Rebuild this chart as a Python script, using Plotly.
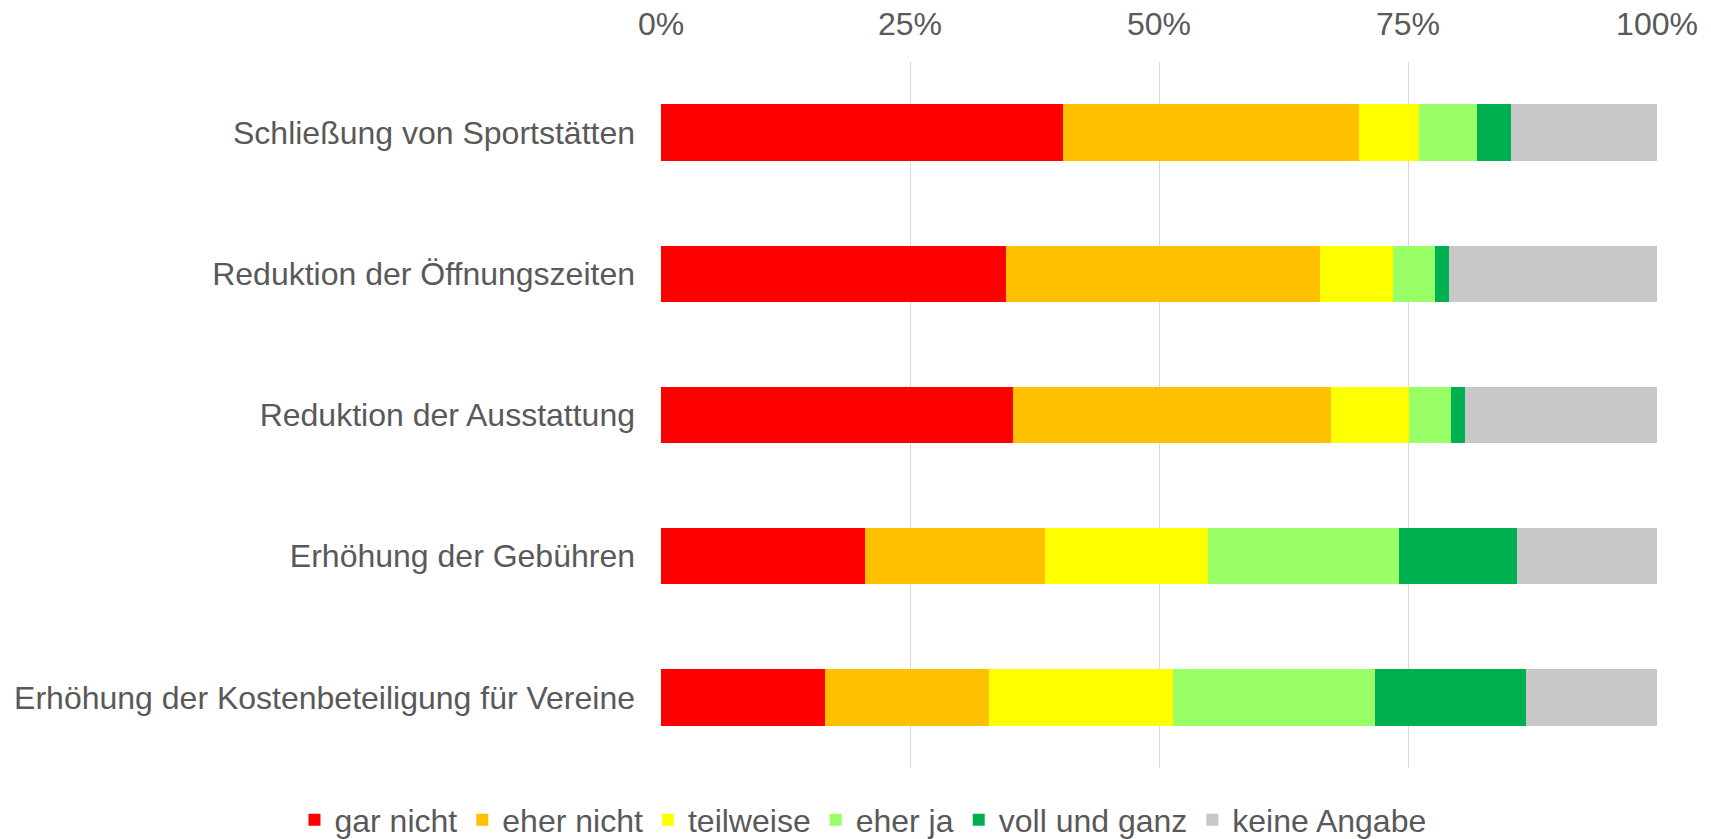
import plotly.graph_objects as go

categories = [
    "Schließung von Sportstätten",
    "Reduktion der Öffnungszeiten",
    "Reduktion der Ausstattung",
    "Erhöhung der Gebühren",
    "Erhöhung der Kostenbeteiligung für Vereine",
]
series_names = ["gar nicht", "eher nicht", "teilweise", "eher ja", "voll und ganz", "keine Angabe"]
gar_nicht = [40.4, 34.6, 35.3, 20.5, 16.5]
eher_nicht = [29.7, 31.6, 32.0, 18.1, 16.4]
teilweise = [6.0, 7.3, 7.8, 16.3, 18.5]
eher_ja = [5.8, 4.2, 4.2, 19.2, 20.3]
voll_und_ganz = [3.4, 1.4, 1.4, 11.8, 15.1]
keine_angabe = [14.7, 20.9, 19.3, 14.1, 13.2]
tick_values = [0, 25, 50, 75, 100]
tick_labels = ["0%", "25%", "50%", "75%", "100%"]

colors = ["#FF0000", "#FFC000", "#FFFF00", "#99FF66", "#00B050", "#C8C8C8"]
values = [gar_nicht, eher_nicht, teilweise, eher_ja, voll_und_ganz, keine_angabe]

FONT = "Liberation Sans, Arial, sans-serif"
TXT = "#595959"
FS = 32

fig = go.Figure()
for name, vals, col in zip(series_names, values, colors):
    fig.add_trace(go.Bar(
        y=categories, x=vals, name=name, orientation="h",
        marker=dict(color=col, line=dict(width=0)),
        hoverinfo="x+y+name",
    ))

fig.update_layout(
    barmode="stack",
    bargap=0.6,
    width=1711, height=839,
    margin=dict(l=661, r=54, t=62, b=71, autoexpand=False),
    paper_bgcolor="white", plot_bgcolor="white",
    font=dict(family=FONT, size=FS, color=TXT),
    legend=dict(
        orientation="h", x=-0.368, xanchor="left", y=-0.0737, yanchor="middle",
        font=dict(family=FONT, size=FS, color=TXT),
        itemwidth=30, traceorder="normal",
        tracegroupgap=0,
    ),
    xaxis=dict(
        side="top", range=[0, 100], tickvals=tick_values, ticktext=tick_labels,
        showgrid=True, gridcolor="#D9D9D9", gridwidth=1.3, zeroline=False,
        showline=False, ticks="", ticklabelstandoff=20,
        tickfont=dict(family=FONT, size=FS, color=TXT),
    ),
    yaxis=dict(
        autorange="reversed", showgrid=False, showline=False, ticks="",
        ticklabelstandoff=25,
        tickfont=dict(family=FONT, size=FS, color=TXT),
    ),
)

fig.write_html(
    "out.html",
    config={"displayModeBar": False},
    post_script="document.body.style.margin='0';document.body.style.overflow='hidden';",
)
